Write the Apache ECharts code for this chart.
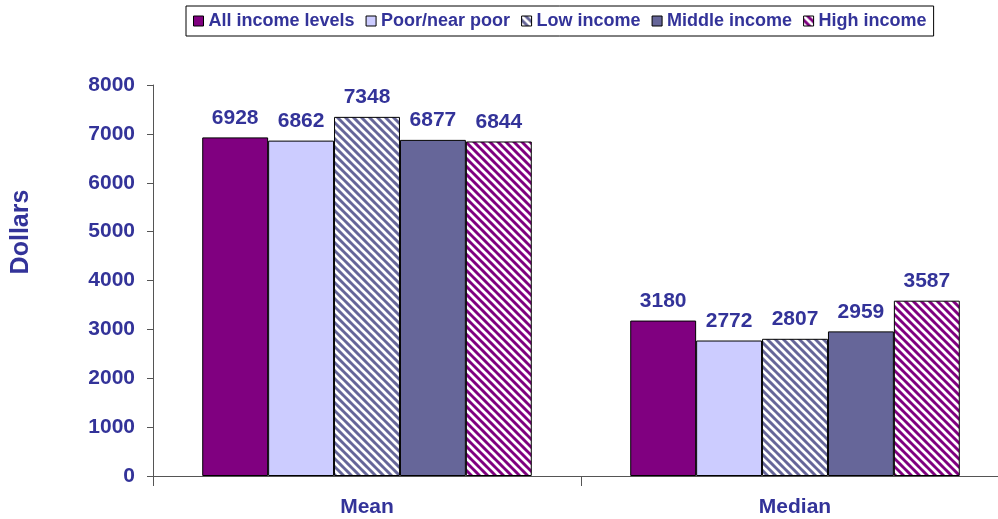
<!DOCTYPE html>
<html><head><meta charset="utf-8">
<script src="https://cdn.jsdelivr.net/npm/echarts@6/dist/echarts.min.js"></script>
<style>html,body{margin:0;padding:0;background:#fff;overflow:hidden;width:998px;height:519px}#c{width:1009px;height:519px}</style>
</head><body><div id="c"></div>
<script>
const categories = ['Mean', 'Median'];
const seriesNames = ['All income levels', 'Poor/near poor', 'Low income', 'Middle income', 'High income'];
const allIncome = [6928, 3180];
const poorNearPoor = [6862, 2772];
const lowIncome = [7348, 2807];
const middleIncome = [6877, 2959];
const highIncome = [6844, 3587];
const yTicks = [0, 1000, 2000, 3000, 4000, 5000, 6000, 7000, 8000];
const yAxisTitle = 'Dollars';

const values = [allIncome, poorNearPoor, lowIncome, middleIncome, highIncome];
const colors = ['#800080', '#ccccff', '#666699', '#666699', '#800080'];
const striped = [false, false, true, false, true];
const textColor = '#333399';
const font = '"Liberation Sans", Arial, sans-serif';

function stripePattern(base) {
  const p = 8;
  const c = document.createElement('canvas');
  c.width = p; c.height = p;
  const g = c.getContext('2d');
  g.fillStyle = base; g.fillRect(0, 0, p, p);
  g.strokeStyle = '#ffffff'; g.lineWidth = 2.7;
  for (let k = -1; k <= 1; k++) {
    g.beginPath(); g.moveTo(k * p - 2, -2); g.lineTo(k * p + p + 2, p + 2); g.stroke();
  }
  return { image: c, repeat: 'repeat' };
}

const series = seriesNames.map((n, i) => ({
  name: n, type: 'bar', data: values[i],
  barGap: '0%', barCategoryGap: '23%',
  itemStyle: { color: striped[i] ? stripePattern(colors[i]) : colors[i], borderColor: '#000', borderWidth: 1 },
  label: { show: true, position: 'top', distance: 9, color: textColor,
    fontWeight: 'bold', fontSize: 21, fontFamily: font },
  emphasis: { disabled: true }
}));

const chart = echarts.init(document.getElementById('c'));
chart.setOption({
  animation: false,
  legend: {
    top: 6, left: 186, itemWidth: 10, itemHeight: 10, itemGap: 11,
    borderColor: '#000', borderWidth: 1, padding: [6, 7, 6, 7],
    textStyle: { color: textColor, fontWeight: 'bold', fontSize: 18, fontFamily: font },
    itemStyle: { borderColor: '#000', borderWidth: 1 },
    icon: 'rect', data: seriesNames
  },
  graphic: [{
    type: 'text', x: 21, y: 232, rotation: Math.PI / 2,
    style: { text: yAxisTitle, fill: textColor, font: 'bold 25px ' + font, align: 'center', verticalAlign: 'middle' }
  }],
  grid: { left: 153, right: 0, top: 85, bottom: 43, containLabel: false },
  xAxis: {
    type: 'category', data: categories,
    axisLine: { lineStyle: { color: '#555', width: 1 } },
    axisTick: { show: true, length: 10, lineStyle: { color: '#555' } },
    axisLabel: { color: textColor, fontWeight: 'bold', fontSize: 21, fontFamily: font, margin: 21 }
  },
  yAxis: {
    type: 'value', min: 0, max: 8000, interval: 1000,
    axisLine: { show: true, lineStyle: { color: '#555' } },
    axisTick: { show: true, length: 6, lineStyle: { color: '#555' } },
    splitLine: { show: false },
    axisLabel: { color: textColor, fontWeight: 'bold', fontSize: 21, fontFamily: font, margin: 18,
      formatter: v => yTicks.includes(v) ? String(v) : '' }
  },
  series: series
});
</script></body></html>
